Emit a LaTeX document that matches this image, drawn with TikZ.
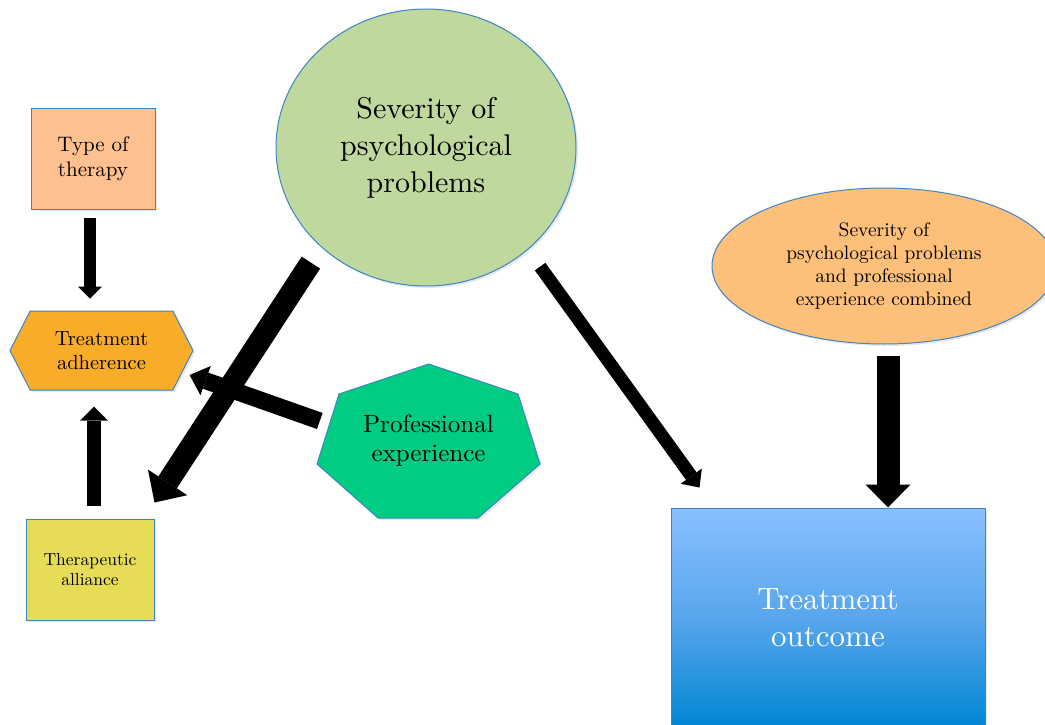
\documentclass[tikz,border=0pt]{standalone}
\usepackage{fontspec}
\setmainfont{lmroman10-regular.otf}
\usepackage{tikz}
\usetikzlibrary{arrows.meta, shapes.geometric, shapes.symbols, shadows}

\definecolor{edgeblue}{RGB}{61,133,198}
\definecolor{therapypeach}{RGB}{255,192,143}
\definecolor{adherenceorange}{RGB}{249,172,39}
\definecolor{allianceyellow}{RGB}{230,220,86}
\definecolor{severitygreen}{RGB}{191,216,157}
\definecolor{profgreen}{RGB}{0,205,130}
\definecolor{combinedorange}{RGB}{253,192,122}
\definecolor{outtop}{RGB}{137,192,255}
\definecolor{outmid}{RGB}{88,166,236}
\definecolor{outbot}{RGB}{0,133,212}

\begin{document}
\begin{tikzpicture}[x=1pt, y=-1pt,
    softshadow/.style={drop shadow={opacity=0.18, shadow xshift=2pt, shadow yshift=-2pt}},
    shapebox/.style={draw=edgeblue, line width=1pt, align=center, inner sep=0pt, softshadow},
    fat/.style n args={3}{line width=#1, -{Triangle[width=#2, length=#3, line width=0pt]}}]
    \clip (0,0) rectangle (1045,725);

    % left column
    \node[shapebox, fill=therapypeach, minimum width=124pt, minimum height=100pt,
          font=\fontsize{21}{25}\selectfont] (therapy) at (93,159) {Type of\\therapy};
    \node[shapebox, signal, signal to=east and west, signal pointer angle=126,
          fill=adherenceorange, minimum width=183pt, minimum height=79pt,
          font=\fontsize{20.5}{24}\selectfont] (adherence) at (101.5,350.5) {Treatment\\adherence};
    \node[shapebox, fill=allianceyellow, minimum width=128pt, minimum height=101pt,
          font=\fontsize{17.5}{20}\selectfont] (alliance) at (90,569.5) {Therapeutic\\alliance};

    % middle
    \node[shapebox, ellipse, fill=severitygreen, minimum width=300pt, minimum height=277pt,
          font=\fontsize{30}{37}\selectfont] (severity) at (426,147.5) {Severity of\\psychological\\problems};
    \filldraw[draw=edgeblue, fill=profgreen, line width=1pt, softshadow]
        (428.7,364) -- (518,394) -- (540,464) -- (478,518) -- (378,518) -- (317,464) -- (339,394) -- cycle;
    \node[align=center, inner sep=0pt, minimum width=223pt, minimum height=154pt,
          font=\fontsize{25}{29}\selectfont] (profexp) at (428.5,441) {Professional\\experience};

    % right
    \node[shapebox, ellipse, fill=combinedorange, minimum width=344pt, minimum height=156pt,
          font=\fontsize{19.5}{23}\selectfont] (combined) at (884,266)
          {Severity of\\psychological problems\\and professional\\experience combined};
    \node[shapebox, top color=outtop, bottom color=outbot, middle color=outmid,
          minimum width=314pt, minimum height=220pt, text=white,
          font=\fontsize{31}{37}\selectfont] (outcome) at (828,618) {Treatment\\outcome};

    % arrows
    \draw[fat={12pt}{24pt}{12pt}] ([xshift=-3pt, yshift=-8pt]therapy.south)
        -- ([xshift=-3pt, yshift=12pt]therapy.south |- adherence.north);
    \draw[fat={14pt}{28pt}{14pt}] ([xshift=4pt, yshift=13pt]alliance.north)
        -- ([xshift=4pt, yshift=-16pt]alliance.north |- adherence.south);
    \draw[fat={17pt}{31pt}{17pt}] ([xshift=3pt, yshift=20pt]profexp.west)
        -- ([xshift=-4pt, yshift=-24.5pt]adherence.east);
    \draw[fat={22pt}{47pt}{24pt}] ([xshift=-13pt, yshift=-13pt]severity.225)
        -- ([yshift=16pt]alliance.north east);
    \draw[fat={13pt}{26pt}{14pt}] ([xshift=12pt, yshift=-17pt]severity.315)
        -- ([xshift=29pt, yshift=20pt]outcome.north west);
    \draw[fat={23pt}{45pt}{23pt}] ([xshift=4pt, yshift=-11pt]combined.south)
        -- ([xshift=4pt]combined.south |- outcome.north);
\end{tikzpicture}
\end{document}
